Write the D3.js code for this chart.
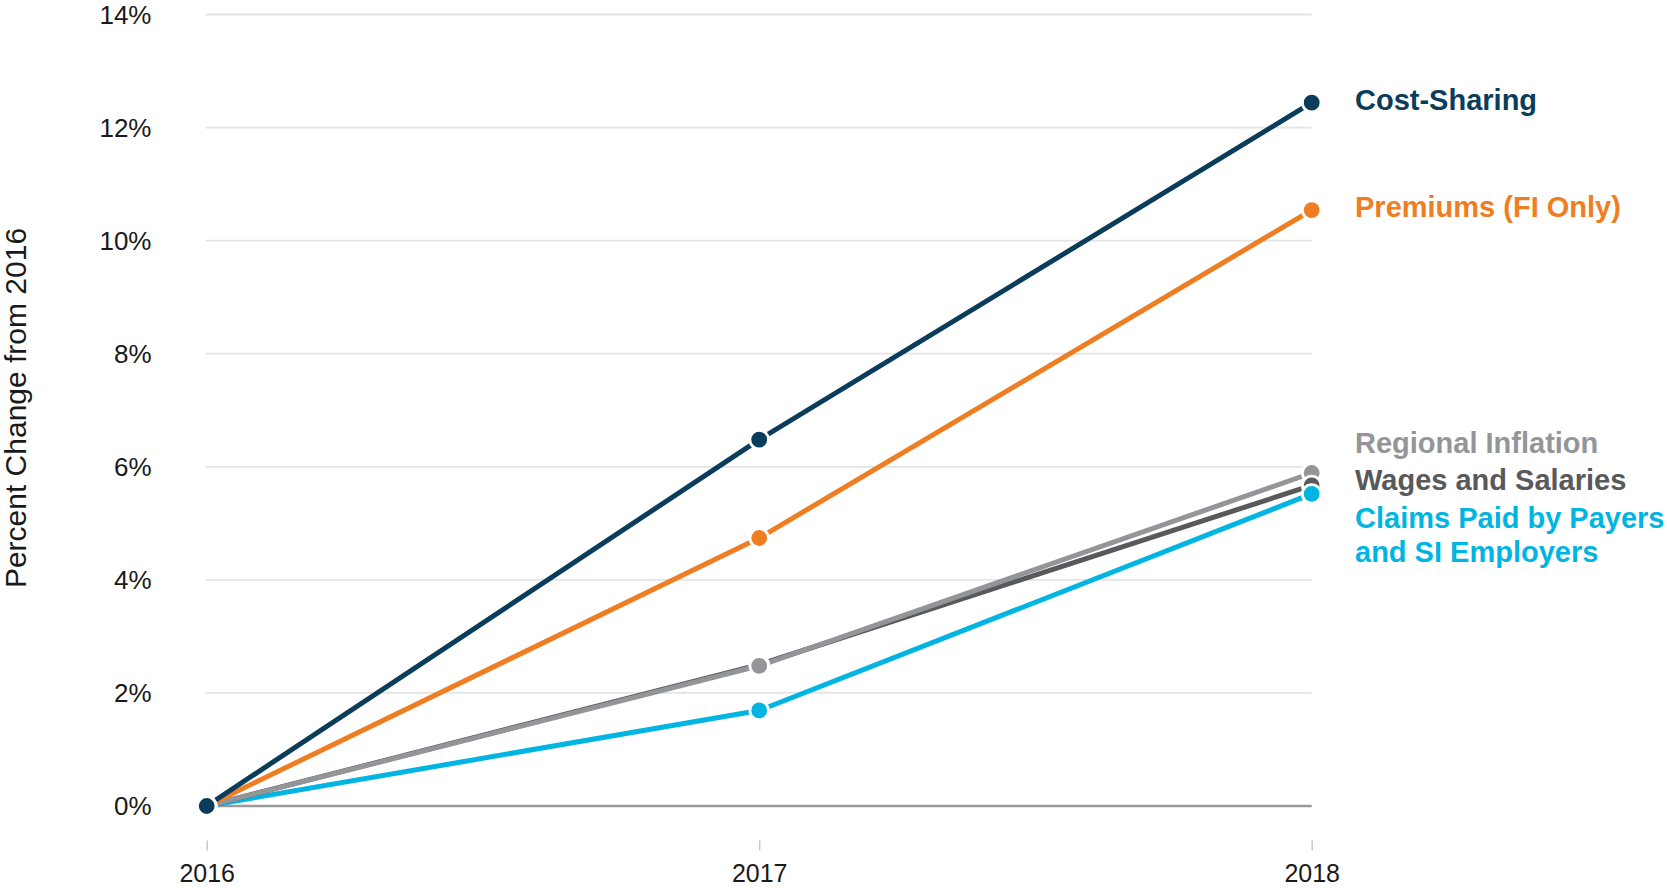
<!DOCTYPE html>
<html>
<head>
<meta charset="utf-8">
<script src="https://cdn.jsdelivr.net/npm/d3@7"></script>
<style>
  html, body { margin: 0; padding: 0; background: #ffffff; }
  svg { display: block; font-family: "Liberation Sans", Arial, Helvetica, sans-serif; }
</style>
</head>
<body>
<svg id="chart" width="1667" height="888"></svg>
<script>
// ---- data ----
const years = ["2016", "2017", "2018"];
const yTicks = [0, 2, 4, 6, 8, 10, 12, 14];
const seriesNames = ["Cost-Sharing", "Premiums (FI Only)", "Wages and Salaries", "Regional Inflation", "Claims Paid by Payers and SI Employers"];
const costSharing = [0, 6.48, 12.44];
const premiums = [0, 4.74, 10.54];
const wages = [0, 2.50, 5.67];
const regional = [0, 2.48, 5.89];
const claims = [0, 1.69, 5.52];
const seriesColors = ["#0a3d5c", "#ef7d22", "#58595b", "#939598", "#00b5e2"];
const labelLines = [["Cost-Sharing"], ["Premiums (FI Only)"], ["Wages and Salaries"], ["Regional Inflation"], ["Claims Paid by Payers", "and SI Employers"]];
const labelBaselines = [110, 217, 490, 453, 528];
const yTitle = "Percent Change from 2016";

// ---- layout ----
const svg = d3.select("#chart");
const x = d3.scalePoint().domain(years).range([206.7, 1311.7]);
const y = d3.scaleLinear().domain([0, 14]).range([806, 14.5]);
const values = [costSharing, premiums, wages, regional, claims];
const series = seriesNames.map((n, i) => ({ name: n, idx: i, color: seriesColors[i], vals: values[i] }));

// gridlines
svg.append("g").selectAll("line").data(yTicks.filter(d => d > 0)).join("line")
  .attr("x1", x.range()[0] - 1).attr("x2", x.range()[1])
  .attr("y1", d => y(d)).attr("y2", d => y(d))
  .attr("stroke", "#e4e4e4").attr("stroke-width", 1.8);

// zero line
svg.append("line")
  .attr("x1", x.range()[0]).attr("x2", x.range()[1])
  .attr("y1", y(0)).attr("y2", y(0))
  .attr("stroke", "#9a9a9a").attr("stroke-width", 2.6);

// y axis (labels only)
const yAxis = d3.axisLeft(y).tickValues(yTicks).tickFormat(d => d + "%").tickSize(0).tickPadding(0);
const yG = svg.append("g").attr("transform", "translate(151.5,0)").call(yAxis);
yG.select(".domain").remove();
yG.selectAll("text").attr("font-size", 26).attr("fill", "#1a1a1a")
  .attr("font-family", "'Liberation Sans', Arial, sans-serif")
  .attr("dy", "0.34em").attr("x", 0);

// x axis
const xAxis = d3.axisBottom(x).tickSize(10).tickPadding(14);
const xG = svg.append("g").attr("transform", "translate(0,840.5)").call(xAxis);
xG.select(".domain").remove();
xG.selectAll(".tick line").attr("stroke", "#c8c8c8").attr("stroke-width", 1.5);
xG.selectAll("text").attr("font-size", 25).attr("fill", "#1a1a1a")
  .attr("font-family", "'Liberation Sans', Arial, sans-serif");

// y title
svg.append("text")
  .attr("transform", "translate(26,408) rotate(-90)")
  .attr("text-anchor", "middle")
  .attr("font-size", 30)
  .attr("fill", "#1a1a1a")
  .text(yTitle);

// lines
const line = d3.line().x((d, i) => x(years[i])).y(d => y(d));
const lineOrder = [4, 2, 3, 1, 0];
svg.append("g").selectAll("path").data(lineOrder.map(i => series[i])).join("path")
  .attr("d", s => line(s.vals))
  .attr("fill", "none")
  .attr("stroke", s => s.color)
  .attr("stroke-width", 5)
  .attr("stroke-linejoin", "round");

// dots: per year, higher values drawn first; ties -> first series on top
const dots = [];
years.forEach((yr, j) => {
  const arr = series.map(s => ({ s, j, v: s.vals[j] }));
  arr.sort((a, b) => (b.v - a.v) || (b.s.idx - a.s.idx));
  arr.forEach(d => dots.push(d));
});
svg.append("g").selectAll("circle").data(dots).join("circle")
  .attr("cx", d => x(years[d.j]))
  .attr("cy", d => y(d.v))
  .attr("r", 9.3)
  .attr("fill", d => d.s.color)
  .attr("stroke", "#ffffff")
  .attr("stroke-width", 2.8);

// end labels
const lg = svg.append("g");
series.forEach((s, i) => {
  const t = lg.append("text")
    .attr("x", 1355)
    .attr("y", labelBaselines[i])
    .attr("font-size", 29)
    .attr("font-weight", "bold")
    .attr("fill", s.color);
  labelLines[i].forEach((ln, k) => {
    t.append("tspan").attr("x", 1355).attr("dy", k === 0 ? 0 : 34).text(ln);
  });
});
</script>
</body>
</html>
